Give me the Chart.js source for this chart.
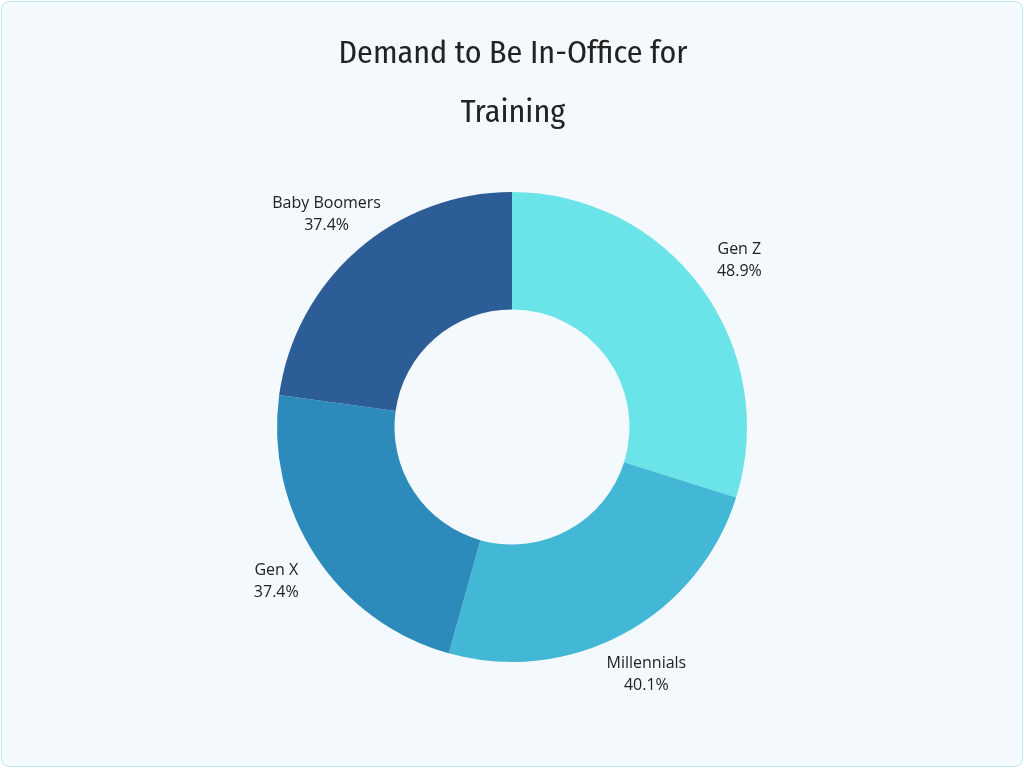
<!DOCTYPE html>
<html><head><meta charset="utf-8">
<script src="https://cdn.jsdelivr.net/npm/chart.js"></script>
<style>
html,body{margin:0;padding:0;background:#fff;}
#wrap{position:absolute;left:1px;top:1px;width:1020px;height:764px;background:#f3f9fd;border:1px solid #bfe9f0;border-radius:8px;}
canvas{position:absolute;left:0;top:0;}
</style></head><body>
<div id="wrap"><canvas id="c" width="1020" height="764"></canvas></div>
<script>
const categories = ["Gen Z","Millennials","Gen X","Baby Boomers"];
const values = [48.9, 40.1, 37.4, 37.4];
const colors = ["#6ae4e8","#42b7d6","#2d8bbb","#2d5d96"];
const titleLines = ["Demand to Be In-Office for","Training"];

const labelPlugin = {
  id:'lbl',
  afterDraw(chart){
    const ctx = chart.ctx;
    ctx.save();
    ctx.fillStyle = '#222';
    ctx.font = '32px "Fira Sans Condensed","Roboto Condensed","Open Sans",sans-serif';
    ctx.textAlign='center'; ctx.textBaseline='middle';
    ctx.fillText(titleLines[0], 511, 52);
    ctx.fillText(titleLines[1], 511, 111);
    ctx.font = '16px "Open Sans",sans-serif';
    const meta = chart.getDatasetMeta(0);
    meta.data.forEach((arc,i)=>{
      const a = (arc.startAngle+arc.endAngle)/2;
      const r = arc.outerRadius*1.2;
      const x = arc.x + Math.cos(a)*r, y = arc.y + Math.sin(a)*r;
      ctx.fillText(categories[i], x, y-11);
      ctx.fillText(values[i].toFixed(1)+'%', x, y+11);
    });
    ctx.restore();
  }
};

new Chart(document.getElementById('c'),{
  type:'doughnut',
  data:{labels:categories,datasets:[{data:values,backgroundColor:colors,borderWidth:0}]},
  options:{
    responsive:false,animation:false,cutout:'50%',
    layout:{padding:{top:190,bottom:104,left:0,right:0}},
    plugins:{legend:{display:false},title:{display:false},tooltip:{enabled:false}}
  },
  plugins:[labelPlugin]
});
</script></body></html>
